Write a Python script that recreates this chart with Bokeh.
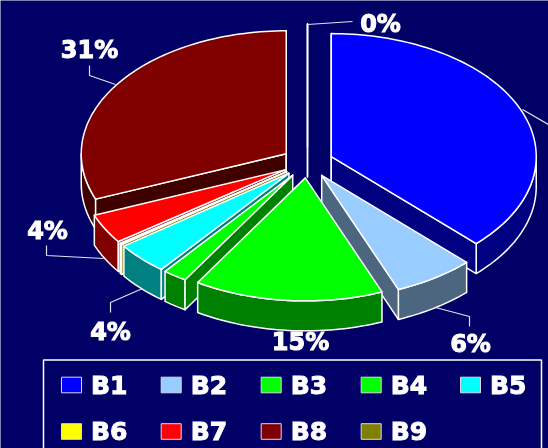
import numpy as np
from bokeh.plotting import figure
from bokeh.models import Range1d
from bokeh.core.properties import value
from bokeh.embed import file_html
from bokeh.resources import INLINE

# ---- data ----
names = ["B1", "B2", "B3", "B4", "B5", "B6", "B7", "B8", "B9"]
shares = [37.5, 6.4, 14.9, 1.9, 4.2, 0.2, 3.9, 31.0, 0.0]
top_colors = ["#0000FF", "#99CCFF", "#00FF00", "#00FF00", "#00FFFF", "#FFFF00", "#FF0000", "#800000", "#808000"]
side_colors = ["#000080", "#4D6680", "#008000", "#008000", "#008080", "#808000", "#800000", "#400000", "#404000"]
label_texts = ["31%", "4%", "4%", "15%", "6%", "0%"]

# ---- layout ----
BG = "#000066"
FONT = "'DejaVu Sans'"
CX, CY = 307.0, 162.0   # pie centre
RX, RY = 205.0, 123.0   # ellipse radii
DEPTH = 30.0
EXPLODE = 25.7
label_x = [89, 47, 110, 300, 470, 380]
label_y = [49, 230, 331, 341, 343, 23]
leaders_x = [[89, 89, 115], [46, 46, 103], [110, 110, 142], [435, 469, 469], [307, 352], [522, 560]]
leaders_y = [[65, 75, 84], [245, 255, 258], [312, 302, 288], [307, 316, 326], [24, 21], [109, 131]]
col_x = [61, 160.7, 260.7, 360.7, 460]
row_y = [384.5, 431]

p = figure(width=548, height=448, output_backend="svg", toolbar_location=None,
           x_range=Range1d(0, 548), y_range=Range1d(448, 0),
           background_fill_color=BG, border_fill_color=BG, min_border=0,
           outline_line_color=None)
p.axis.visible = False
p.grid.visible = False
p.styles = {"position": "fixed", "left": "0", "top": "0", "box-shadow": "0 0 0 20px #000066"}
p.margin = 0

LW = 1.5
fr = np.array(shares) / sum(shares)
ends = np.cumsum(fr) * 2 * np.pi
starts = ends - fr * 2 * np.pi
mids = (starts + ends) / 2


def pt(ax, ay, t):
    return ax + RX * np.sin(t), ay - RY * np.cos(t)


def shape(xs, ys, fill):
    p.patch(list(xs), list(ys), fill_color=fill, line_color="white", line_width=LW, line_join="round")


for i in sorted(range(len(names)), key=lambda k: -np.cos(mids[k])):
    s, e = starts[i], ends[i]
    ax = CX + EXPLODE * np.sin(mids[i])
    ay = CY - 0.6 * EXPLODE * np.cos(mids[i])
    # rim
    r0, r1 = max(s, np.pi / 2), min(e, 3 * np.pi / 2)
    if r1 > r0:
        t = np.linspace(r0, r1, max(3, int((r1 - r0) * 40)))
        x, y = pt(ax, ay, t)
        shape(np.r_[x, x[::-1]], np.r_[y, (y + DEPTH)[::-1]], side_colors[i])
    # radial walls
    for ang, visible in ((s, np.sin(s) < 1e-9), (e, np.sin(e) > -1e-9)):
        if visible:
            ox, oy = pt(ax, ay, ang)
            shape([ax, ox, ox, ax], [ay, oy, oy + DEPTH, ay + DEPTH], side_colors[i])
    # top
    t = np.linspace(s, e, max(3, int((e - s) * 40)))
    x, y = pt(ax, ay, t)
    shape(np.r_[ax, x], np.r_[ay, y], top_colors[i])

# leaders and labels
p.multi_line(leaders_x, leaders_y, line_color="#E0E0F0", line_width=1.2)
p.text(label_x, label_y, text=label_texts, text_color="white", text_font=value(FONT),
       text_font_style="bold", text_font_size="24px", text_align="center", text_baseline="middle",
       text_outline_color="white")

# legend
p.line([43, 43, 541, 541], [460, 359.5, 359.5, 460], line_color="white", line_width=1.5)
lx = [col_x[i % 5] for i in range(len(names))]
ly = [row_y[i // 5] for i in range(len(names))]
p.quad(left=lx, right=[v + 20 for v in lx], top=[v - 7.8 for v in ly], bottom=[v + 7.8 for v in ly],
       fill_color=top_colors, line_color="#D8D8E8", line_width=1)
p.text([v + 29.5 for v in lx], ly, text=names, text_color="white", text_font=value(FONT),
       text_font_style="bold", text_font_size="25px", text_align="left", text_baseline="middle",
       text_outline_color="white")

open("out.html", "w").write(file_html(p, INLINE))
